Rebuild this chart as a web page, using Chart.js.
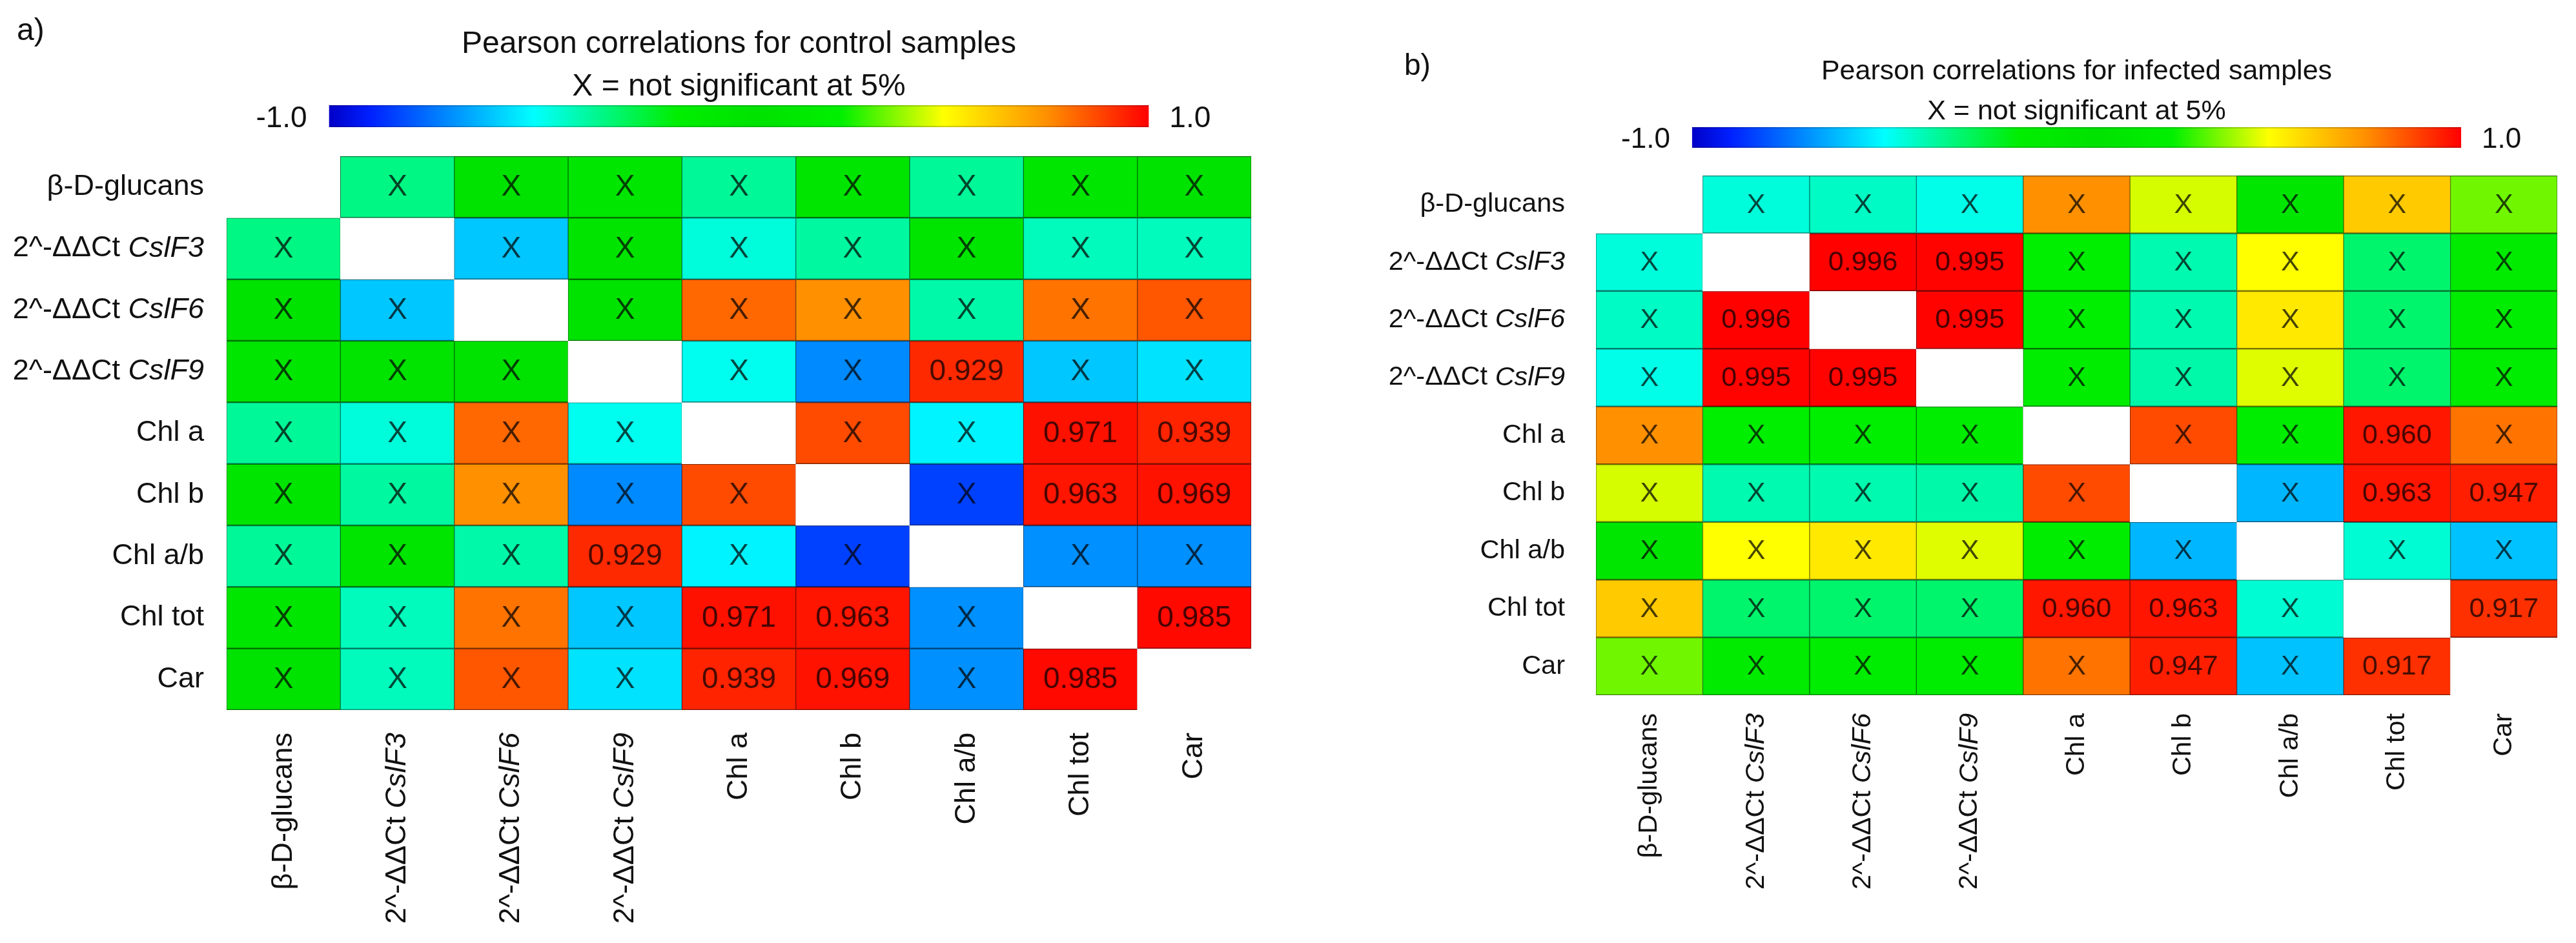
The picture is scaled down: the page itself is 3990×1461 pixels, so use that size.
<!DOCTYPE html>
<html>
<head>
<meta charset="utf-8">
<script src="https://cdn.jsdelivr.net/npm/chart.js@4.4.1/dist/chart.umd.min.js"></script>
<style>
  body { margin: 0; background: #fff; }
  canvas { position: absolute; top: 0; }
  #mapControl { left: 0; }
  #mapInfected { left: 1995px; }
</style>
</head>
<body>
<canvas id="mapControl" width="1995" height="1461"></canvas>
<canvas id="mapInfected" width="1995" height="1461"></canvas>
<script>
const variables = ["β-D-glucans", "2^-ΔΔCt CslF3", "2^-ΔΔCt CslF6", "2^-ΔΔCt CslF9",
    "Chl a", "Chl b", "Chl a/b", "Chl tot", "Car"];

// Pearson r, control samples (diagonal left empty)
const controlR = [
    [null, -0.33, 0.05, 0.10, -0.36, 0.00, -0.36, 0.10, 0.05],
    [-0.33, null, -0.60, 0.08, -0.45, -0.37, 0.00, -0.41, -0.41],
    [0.05, -0.60, null, 0.05, 0.82, 0.75, -0.38, 0.80, 0.85],
    [0.10, 0.08, 0.05, null, -0.48, -0.71, 0.929, -0.60, -0.55],
    [-0.36, -0.45, 0.82, -0.48, null, 0.87, -0.52, 0.971, 0.939],
    [0.00, -0.37, 0.75, -0.71, 0.87, null, -0.84, 0.963, 0.969],
    [-0.36, 0.00, -0.38, 0.929, -0.52, -0.84, null, -0.70, -0.70],
    [0.10, -0.41, 0.80, -0.60, 0.971, 0.963, -0.70, null, 0.985],
    [0.05, -0.41, 0.85, -0.55, 0.939, 0.969, -0.70, 0.985, null]
];

// Pearson r, infected samples
const infectedR = [
    [null, -0.45, -0.42, -0.47, 0.75, 0.46, 0.10, 0.62, 0.36],
    [-0.45, null, 0.996, 0.995, -0.15, -0.39, 0.50, -0.30, -0.10],
    [-0.42, 0.996, null, 0.995, -0.15, -0.39, 0.55, -0.30, -0.12],
    [-0.47, 0.995, 0.995, null, -0.14, -0.38, 0.47, -0.30, -0.12],
    [0.75, -0.15, -0.15, -0.14, null, 0.87, -0.14, 0.960, 0.80],
    [0.46, -0.39, -0.39, -0.38, 0.87, null, -0.63, 0.963, 0.947],
    [0.10, 0.50, 0.55, 0.47, -0.14, -0.63, null, -0.44, -0.61],
    [0.62, -0.30, -0.30, -0.30, 0.960, 0.963, -0.44, null, 0.917],
    [0.36, -0.10, -0.12, -0.12, 0.80, 0.947, -0.61, 0.917, null]
];

const scaleTicks = ["-1.0", "1.0"];
const significantFrom = 0.9;

const colorStops = [
    [-1.0, [0, 0, 200]], [-0.9, [0, 32, 255]], [-0.5, [0, 255, 255]],
    [-0.15, [0, 238, 0]], [0.05, [0, 226, 0]], [0.25, [0, 240, 0]],
    [0.5, [255, 255, 0]], [0.75, [255, 144, 0]], [1.0, [255, 0, 0]]
];

function rgbFor(r) {
    for (let k = 1; k < colorStops.length; k++) {
        const [v0, c0] = colorStops[k - 1], [v1, c1] = colorStops[k];
        if (r <= v1) {
            const t = Math.max(0, (r - v0) / (v1 - v0));
            return c0.map((c, i) => Math.round(c + (c1[i] - c) * t));
        }
    }
    return colorStops[colorStops.length - 1][1];
}
const css = (c, k = 1) => `rgb(${c.map(v => Math.round(v * k)).join(",")})`;

function drawLabel(ctx, text, x, y, font, size) {
    // right-aligned at x, with the gene name in italics
    const m = text.match(/^(.*?)(CslF\d)$/);
    const plain = m ? m[1] : text, ital = m ? m[2] : "";
    ctx.font = `${size}px ${font}`;
    const w1 = ctx.measureText(plain).width;
    ctx.font = `italic ${size}px ${font}`;
    const w2 = ctx.measureText(ital).width;
    ctx.textAlign = "left";
    ctx.font = `${size}px ${font}`;
    ctx.fillText(plain, x - w1 - w2, y);
    ctx.font = `italic ${size}px ${font}`;
    ctx.fillText(ital, x - w2, y);
}

const FONT = "'Liberation Sans', Arial, sans-serif";

const decor = {
    id: "decor",
    afterDatasetsDraw(chart, args, o) {
        const { ctx, chartArea: a, scales } = chart;
        const matrix = o.matrix;
        ctx.save();
        ctx.textBaseline = "middle";

        // cell texts
        chart.data.datasets.forEach((ds, i) => {
            chart.getDatasetMeta(i).data.forEach((el, j) => {
                const r = matrix[i][j];
                if (r === null) return;
                const p = el.getProps(["x", "y", "base"], true);
                ctx.fillStyle = css(rgbFor(r), 0.28);
                ctx.font = `${o.cellSize}px ${FONT}`;
                ctx.textAlign = "center";
                const txt = Math.abs(r) >= significantFrom ? r.toFixed(3) : "X";
                ctx.fillText(txt, p.x, (p.y + p.base) / 2 + 1);
            });
        });

        // row and column labels
        ctx.fillStyle = "#111";
        variables.forEach((v, i) => {
            drawLabel(ctx, v, a.left - o.labelGapY, scales.y.getPixelForValue(i + 0.5), FONT, o.labelSize);
        });
        variables.forEach((v, j) => {
            ctx.save();
            ctx.translate(scales.x.getPixelForValue(j), a.bottom + o.labelGapX);
            ctx.rotate(-Math.PI / 2);
            drawLabel(ctx, v, 0, 0, FONT, o.labelSize);
            ctx.restore();
        });

        // panel tag and title
        ctx.textBaseline = "alphabetic";
        ctx.textAlign = "left";
        ctx.font = `${o.tagSize}px ${FONT}`;
        ctx.fillText(o.tag, o.tagX, o.tagY);
        const cx = (a.left + a.right) / 2;
        ctx.textAlign = "center";
        ctx.font = `${o.titleSize}px ${FONT}`;
        o.title.forEach((t, k) => ctx.fillText(t, cx, o.titleY[k]));

        // colour bar
        const half = (a.right - a.left) * 0.4;
        const x0 = cx - half, x1 = cx + half;
        const g = ctx.createLinearGradient(x0, 0, x1, 0);
        colorStops.forEach(([v, c]) => g.addColorStop((v + 1) / 2, css(c)));
        ctx.fillStyle = g;
        ctx.fillRect(x0, o.barTop, x1 - x0, o.barH);
        ctx.fillStyle = "rgba(0,0,0,0.18)";
        ctx.fillRect(x0, o.barTop, x1 - x0, 2);
        ctx.fillRect(x0, o.barTop + o.barH - 2, x1 - x0, 2);
        ctx.fillStyle = "#111";
        ctx.font = `${o.tickSize}px ${FONT}`;
        ctx.textAlign = "right";
        ctx.fillText(scaleTicks[0], x0 - 34, o.barTop + o.barH);
        ctx.textAlign = "left";
        ctx.fillText(scaleTicks[1], x1 + 32, o.barTop + o.barH);
        ctx.restore();
    }
};

function makeHeatmap(id, matrix, padding, opts) {
    const datasets = matrix.map((row, i) => ({
        data: row.map(() => [i, i + 1]),
        backgroundColor: row.map(r => r === null ? "#ffffff" : css(rgbFor(r))),
        borderColor: row.map(r => r === null ? "#ffffff" : css(rgbFor(r), 0.5)),
        borderWidth: row.map(r => r === null ? 0 : { top: 1.6, bottom: 1.6, left: 1, right: 1 }),
        borderSkipped: false,
        barPercentage: 1,
        categoryPercentage: 1,
        grouped: false
    }));
    new Chart(document.getElementById(id), {
        type: "bar",
        data: { labels: variables, datasets },
        options: {
            responsive: false,
            devicePixelRatio: 1,
            animation: false,
            events: [],
            layout: { padding },
            plugins: {
                legend: { display: false },
                tooltip: { enabled: false },
                decor: Object.assign({ matrix }, opts)
            },
            scales: {
                x: { type: "category", display: false, grid: { display: false } },
                y: { type: "linear", min: 0, max: 9, reverse: true, display: false }
            }
        },
        plugins: [decor]
    });
}

document.addEventListener("DOMContentLoaded", () => {
    makeHeatmap("mapControl", controlR,
        { left: 351, top: 242, right: 57, bottom: 361 },
        { tag: "a)", tagX: 26, tagY: 62, tagSize: 48,
          title: ["Pearson correlations for control samples", "X = not significant at 5%"],
          titleY: [82, 148], titleSize: 48,
          barTop: 163, barH: 34, tickSize: 46,
          labelSize: 45, labelGapY: 35, labelGapX: 35, cellSize: 46 });

    makeHeatmap("mapInfected", infectedR,
        { left: 477, top: 272, right: 29, bottom: 384 },
        { tag: "b)", tagX: 180, tagY: 116, tagSize: 46,
          title: ["Pearson correlations for infected samples", "X = not significant at 5%"],
          titleY: [123, 185], titleSize: 43,
          barTop: 197, barH: 32, tickSize: 44,
          labelSize: 41.5, labelGapY: 48, labelGapX: 28, cellSize: 43 });
});
</script>
</body>
</html>
